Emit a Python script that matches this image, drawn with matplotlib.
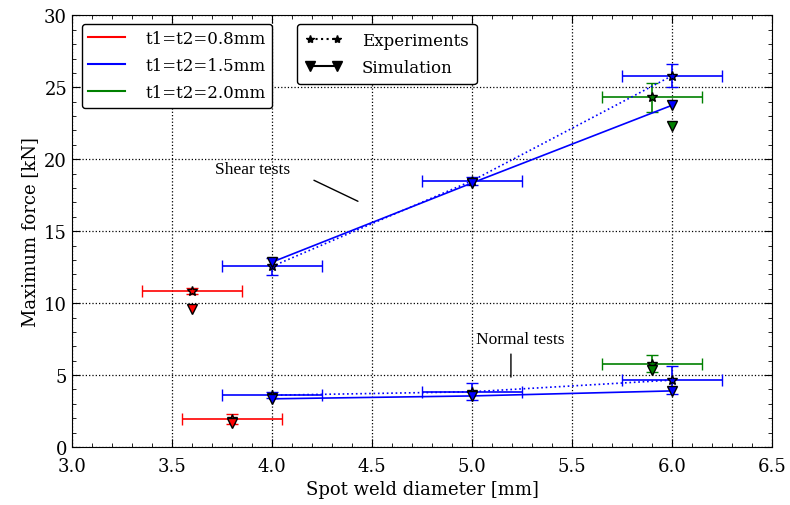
import numpy as np
import matplotlib
matplotlib.use("Agg")
import matplotlib.pyplot as plt
from matplotlib.lines import Line2D

plt.rcParams['font.family'] = ['DejaVu Serif']

# t1=t2=0.8mm
d08_shear = [3.6]; f08_shear_exp = [10.83]; e08_shear = [0.2]; f08_shear_sim = [9.6]
d08_norm = [3.8]; f08_norm_exp = [1.94]; e08_norm = [0.35]; f08_norm_sim = [1.7]
# t1=t2=1.5mm
d15 = [4.0, 5.0, 6.0]
f15_shear_exp = [12.55, 18.5, 25.8]; e15_shear = [0.6, 0.3, 0.8]
f15_shear_sim = [12.85, 18.35, 23.75]
f15_norm_exp = [3.6, 3.84, 4.65]; e15_norm = [0.2, 0.6, 0.95]
f15_norm_sim = [3.35, 3.55, 3.9]
# t1=t2=2.0mm
d20_exp = [5.9]
d20_shear_sim = [6.0]; d20_norm_sim = [5.9]
f20_shear_exp = [24.3]; e20_shear = [1.0]; f20_shear_sim = [22.3]
f20_norm_exp = [5.8]; e20_norm = [0.6]; f20_norm_sim = [5.35]
dia_err = 0.25

fig = plt.figure(figsize=(7.9, 5.06), dpi=100)
ax = fig.add_axes([0.0911, 0.1146, 0.886, 0.853])

def exp_series(x, y, ye, c, ls='none'):
    ax.errorbar(x, y, xerr=dia_err, yerr=ye, color=c, ls='none', capsize=4, lw=1.2, zorder=3)
    ax.plot(x, y, ls=ls, color=c, lw=1.2, marker='*', ms=7, mfc=c, mec='k', zorder=4)

def sim_series(x, y, c, ls='none'):
    ax.plot(x, y, ls=ls, color=c, lw=1.2, marker='v', ms=7, mfc=c, mec='k', zorder=4)

exp_series(d08_shear, f08_shear_exp, e08_shear, 'r')
sim_series(d08_shear, f08_shear_sim, 'r')
exp_series(d08_norm, f08_norm_exp, e08_norm, 'r')
sim_series(d08_norm, f08_norm_sim, 'r')

exp_series(d15, f15_shear_exp, e15_shear, 'b', ':')
sim_series(d15, f15_shear_sim, 'b', '-')
exp_series(d15, f15_norm_exp, e15_norm, 'b', ':')
sim_series(d15, f15_norm_sim, 'b', '-')

exp_series(d20_exp, f20_shear_exp, e20_shear, 'g')
sim_series(d20_shear_sim, f20_shear_sim, 'g')
exp_series(d20_exp, f20_norm_exp, e20_norm, 'g')
sim_series(d20_norm_sim, f20_norm_sim, 'g')

ax.text(3.715, 19.3, 'Shear tests', fontsize=12.5, family='Liberation Serif', va='center')
ax.annotate('', xy=(4.43, 17.08), xytext=(4.21, 18.54),
            arrowprops=dict(arrowstyle='-', color='k', lw=1, shrinkA=0, shrinkB=0))
ax.text(5.24, 7.5, 'Normal tests', fontsize=12.5, family='Liberation Serif', ha='center', va='center')
ax.annotate('', xy=(5.195, 4.86), xytext=(5.195, 6.46),
            arrowprops=dict(arrowstyle='-', color='k', lw=1, shrinkA=0, shrinkB=0))

ax.set_xlim(3.0, 6.5)
ax.set_ylim(0, 30)
ax.set_xticks(np.arange(3.0, 6.51, 0.5))
ax.set_yticks(np.arange(0, 31, 5))
ax.minorticks_on()
ax.tick_params(which='both', direction='in', top=True, right=True, labelsize=13)
ax.tick_params(which='major', length=6)
ax.tick_params(which='minor', length=3)
ax.tick_params(axis='x', pad=7)
ax.grid(True, which='major', ls=':', color='k', lw=0.9)
ax.set_xlabel('Spot weld diameter [mm]', fontsize=13)
ax.set_ylabel('Maximum force [kN]', fontsize=13)

h1 = [Line2D([], [], color=c) for c in ['r', 'b', 'g']]
leg1 = ax.legend(h1, ['t1=t2=0.8mm', 't1=t2=1.5mm', 't1=t2=2.0mm'],
                 loc='upper left', bbox_to_anchor=(0.014, 0.981), borderaxespad=0,
                 fontsize=12, labelspacing=0.6, handlelength=2.2, handletextpad=1.2,
                 fancybox=True, framealpha=1, edgecolor='k')
ax.add_artist(leg1)
h2 = [Line2D([], [], color='k', ls=':', marker='*', ms=6),
      Line2D([], [], color='k', ls='-', marker='v', ms=7)]
ax.legend(h2, ['Experiments', 'Simulation'], numpoints=2,
          loc='upper left', bbox_to_anchor=(0.321, 0.981), borderaxespad=0,
          fontsize=12, labelspacing=0.6, handlelength=2.2, handletextpad=1.2,
          borderpad=0.5, fancybox=True, framealpha=1, edgecolor='k')

fig.savefig('out.png', dpi=100)
